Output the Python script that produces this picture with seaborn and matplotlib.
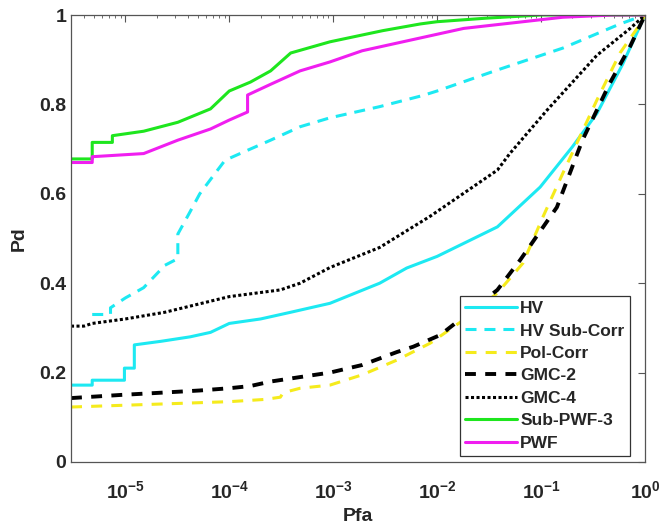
import numpy as np
import pandas as pd
import seaborn as sns
import matplotlib
matplotlib.use('Agg')
import matplotlib.pyplot as plt
from matplotlib.ticker import LogLocator, FixedLocator, FuncFormatter, NullFormatter

# ROC curves (Pfa on log axis, Pd linear)
hv_pfa = [3.0e-6, 4.8e-6, 4.8e-6, 9.8e-6, 9.8e-6, 1.22e-5, 1.22e-5, 2.2e-5, 4.2e-5, 6.6e-5,
          1e-4, 2e-4, 3.9e-4, 9.3e-4, 2.8e-3, 5.1e-3, 1e-2, 3.8e-2, 9.8e-2, 0.2, 0.345, 0.61, 1.0]
hv_pd = [0.172, 0.172, 0.183, 0.183, 0.21, 0.21, 0.262, 0.27, 0.28, 0.29,
         0.31, 0.32, 0.335, 0.355, 0.40, 0.434, 0.46, 0.526, 0.615, 0.705, 0.78, 0.89, 1.0]

hvsub_pfa = [4.8e-6, 7.2e-6, 7.2e-6, 1.0e-5, 1.5e-5, 2.4e-5, 3.2e-5, 3.2e-5, 4.2e-5, 5.2e-5,
             7.0e-5, 9.1e-5, 1.27e-4, 2.5e-4, 4.8e-4, 9.3e-4, 2.8e-3, 7.3e-3, 1e-2, 3.8e-2,
             0.162, 0.575, 1.0]
hvsub_pd = [0.33, 0.33, 0.345, 0.367, 0.39, 0.44, 0.455, 0.51, 0.56, 0.60,
            0.64, 0.675, 0.69, 0.72, 0.75, 0.77, 0.795, 0.82, 0.83, 0.877,
            0.926, 0.98, 1.0]

pol_pfa = [3.0e-6, 2.4e-5, 1e-4, 2.2e-4, 3.1e-4, 3.3e-4, 4.8e-4, 9.3e-4, 1.9e-3, 4.1e-3,
           8.6e-3, 1.8e-2, 3.8e-2, 6.7e-2, 0.105, 0.162, 0.345, 0.575, 0.84, 1.0]
pol_pd = [0.123, 0.13, 0.135, 0.14, 0.145, 0.155, 0.165, 0.172, 0.195, 0.228,
          0.266, 0.318, 0.378, 0.445, 0.55, 0.646, 0.81, 0.915, 0.97, 1.0]

gmc2_pfa = [3.0e-6, 9e-6, 2.2e-5, 5.2e-5, 1e-4, 1.6e-4, 2.5e-4, 4.8e-4, 9.3e-4, 1.9e-3,
            4.1e-3, 5.9e-3, 1.07e-2, 1.8e-2, 3.8e-2, 6.3e-2, 0.142, 0.25, 0.46, 0.72, 1.0]
gmc2_pd = [0.143, 0.15, 0.155, 0.16, 0.165, 0.17, 0.18, 0.19, 0.2, 0.217,
           0.246, 0.258, 0.284, 0.325, 0.385, 0.452, 0.57, 0.72, 0.848, 0.93, 1.0]

gmc4_pfa = [3.0e-6, 4.0e-6, 4.8e-6, 1e-5, 2.4e-5, 1e-4, 3.1e-4, 4.8e-4, 9.3e-4, 2.8e-3,
            8.6e-3, 3.8e-2, 5e-2, 0.114, 0.345, 0.72, 1.0]
gmc4_pd = [0.304, 0.304, 0.31, 0.32, 0.335, 0.37, 0.385, 0.40, 0.435, 0.48,
           0.55, 0.653, 0.69, 0.787, 0.91, 0.97, 1.0]

spwf_pfa = [3.0e-6, 4.8e-6, 4.8e-6, 7.5e-6, 7.5e-6, 1.5e-5, 3.2e-5, 6.6e-5, 1e-4, 1.6e-4,
            2.5e-4, 3.9e-4, 9.3e-4, 3e-3, 6.9e-3, 1e-2, 3e-2, 0.1, 1.0]
spwf_pd = [0.678, 0.678, 0.715, 0.715, 0.73, 0.74, 0.76, 0.79, 0.83, 0.85,
           0.875, 0.915, 0.94, 0.965, 0.98, 0.985, 0.993, 1.0, 1.0]

pwf_pfa = [3.0e-6, 4.8e-6, 4.8e-6, 1.5e-5, 3.2e-5, 6.6e-5, 1e-4, 1.5e-4, 1.5e-4, 2.5e-4,
           4.8e-4, 9.3e-4, 1.9e-3, 1.8e-2, 0.162, 0.5, 1.0]
pwf_pd = [0.67, 0.67, 0.683, 0.69, 0.72, 0.745, 0.765, 0.783, 0.821, 0.845,
          0.875, 0.895, 0.92, 0.97, 0.995, 1.0, 1.0]

series = [
    ('HV', hv_pfa, hv_pd, '#1DE9F2', '-', 2.2),
    ('HV Sub-Corr', hvsub_pfa, hvsub_pd, '#1DE9F2', (0, (3.6, 2.6)), 2.2),
    ('Pol-Corr', pol_pfa, pol_pd, '#F5EB1C', (0, (3.6, 3.0)), 2.2),
    ('GMC-2', gmc2_pfa, gmc2_pd, '#000000', (0, (2.8, 2.4)), 2.8),
    ('GMC-4', gmc4_pfa, gmc4_pd, '#000000', (0, (1.0, 0.8)), 2.2),
    ('Sub-PWF-3', spwf_pfa, spwf_pd, '#1EE61E', '-', 2.2),
    ('PWF', pwf_pfa, pwf_pd, '#F01EF0', '-', 2.2),
]

sns.set_style('white')
plt.rcParams['font.family'] = ['Liberation Sans', 'DejaVu Sans']
plt.rcParams['font.weight'] = 'bold'
plt.rcParams['mathtext.fontset'] = 'custom'
plt.rcParams['mathtext.rm'] = 'Liberation Sans:bold'
plt.rcParams['mathtext.bf'] = 'Liberation Sans:bold'
plt.rcParams['mathtext.default'] = 'bf'

fig = plt.figure(figsize=(6.61, 5.27), dpi=100)
ax = fig.add_axes([71 / 661, 65 / 527, 574 / 661, 447 / 527])

for name, x, y, col, ls, lw in series:
    sns.lineplot(x=x, y=y, ax=ax, color=col, linestyle=ls, linewidth=lw,
                 estimator=None, sort=False, label=name)

ax.set_xscale('log')
ax.set_xlim(3.0e-6, 1.0)
ax.set_ylim(0, 1)

ax.xaxis.set_major_locator(FixedLocator([1e-5, 1e-4, 1e-3, 1e-2, 1e-1, 1e0]))
ax.xaxis.set_major_formatter(FuncFormatter(lambda v, p: r'$\mathbf{10^{%d}}$' % int(round(np.log10(v)))))
ax.xaxis.set_minor_locator(LogLocator(base=10, subs=np.arange(2, 10), numticks=20))
ax.xaxis.set_minor_formatter(NullFormatter())
ax.set_yticks([0, 0.2, 0.4, 0.6, 0.8, 1.0])
ax.set_yticklabels(['0', '0.2', '0.4', '0.6', '0.8', '1'])

grey = '#262626'
for s in ax.spines.values():
    s.set_color('#555555')
    s.set_linewidth(0.9)
    s.set_visible(True)
ax.tick_params(which='both', direction='in', top=True, right=True, colors='#555555',
               labelcolor=grey, labelsize=14)
ax.tick_params(which='major', length=5, width=0.8)
ax.tick_params(which='minor', length=2.5, width=0.6)
ax.tick_params(axis='x', pad=13)

ax.set_xlabel('Pfa', fontsize=14, fontweight='bold', color=grey, labelpad=4)
ax.set_ylabel('Pd', fontsize=14, fontweight='bold', color=grey, labelpad=8)

leg = ax.legend(loc='lower right', bbox_to_anchor=(0.9735, 0.0135), fontsize=12.5,
                handlelength=3.0, labelspacing=0.42, handletextpad=0.2,
                borderpad=0.3, borderaxespad=0, fancybox=False, framealpha=1)
leg.get_frame().set_edgecolor('#333333')
leg.get_frame().set_linewidth(0.9)
for t in leg.get_texts():
    t.set_fontweight('bold')
    t.set_color(grey)

fig.savefig('out.png', dpi=100)
